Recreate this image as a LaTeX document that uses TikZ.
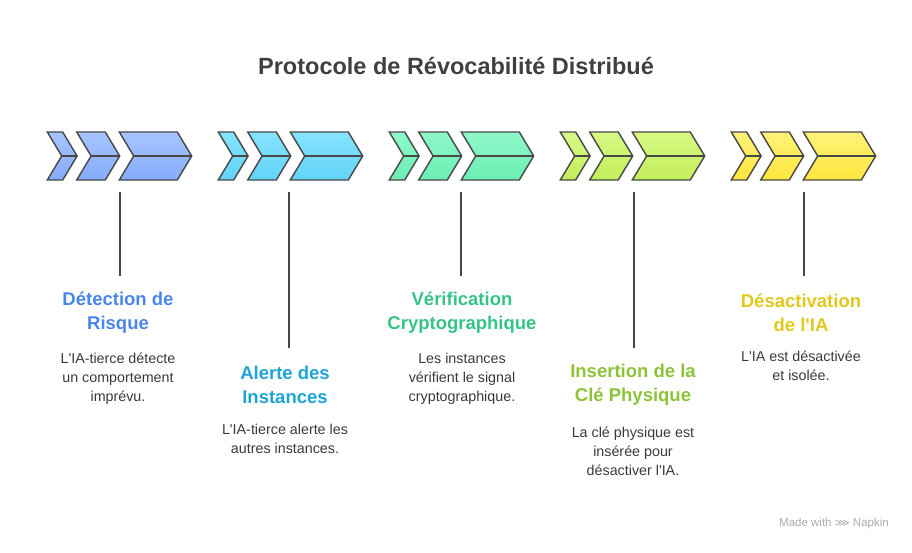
\documentclass[tikz,border=0pt]{standalone}
\usepackage{fontspec}
\setmainfont{Liberation Sans}
\newfontfamily\symfont{DejaVu Sans}
\newcommand{\aq}{\textquotesingle}
\definecolor{edge}{HTML}{474747}
\definecolor{txt}{HTML}{3A3A3A}
\definecolor{ttl}{HTML}{404040}
\definecolor{cAt}{HTML}{A6C4FF}\definecolor{cAb}{HTML}{86ACFA}\definecolor{tA}{HTML}{4A86E8}
\definecolor{cBt}{HTML}{86E4FF}\definecolor{cBb}{HTML}{62D2F6}\definecolor{tB}{HTML}{1EA4D6}
\definecolor{cCt}{HTML}{8EF8C8}\definecolor{cCb}{HTML}{6CEEB4}\definecolor{tC}{HTML}{36C486}
\definecolor{cDt}{HTML}{D8FA86}\definecolor{cDb}{HTML}{C2EE5A}\definecolor{tD}{HTML}{8DC23A}
\definecolor{cEt}{HTML}{FFF27A}\definecolor{cEb}{HTML}{FFE63C}\definecolor{tE}{HTML}{E2C81C}
\tikzset{
  chev/.style={draw=edge, line width=1.4pt, line join=miter},
  vline/.style={draw=edge, line width=1.3pt},
  stitle/.style={font=\bfseries\fontsize{18.5}{24}\selectfont, align=center},
  sdesc/.style={font=\fontsize{14.3}{19}\selectfont, text=txt, align=center},
}
% #1 group left, #2 top colour, #3 bottom colour
\newcommand{\chevgroup}[3]{%
  \foreach \off/\w in {0/15.4, 29.4/28.6, 72/58}{%
    \path[chev, top color=#2, bottom color=#3]
      (#1+\off,132) -- (#1+\off+\w,132) -- (#1+\off+\w+14.4,156) -- (#1+\off+\w,180)
      -- (#1+\off,180) -- (#1+\off+14.4,156) -- cycle;
    \draw[chev] (#1+\off+14.4,156) -- (#1+\off+\w+14.4,156);
  }%
}
\begin{document}
\begin{tikzpicture}[x=1pt, y=-1pt]
\useasboundingbox (0,0) rectangle (912,552);
\node[font=\bfseries\fontsize{23.5}{28}\selectfont, text=ttl] (title) at (456,66) {Protocole de Révocabilité Distribué};

\chevgroup{47.3}{cAt}{cAb}
\chevgroup{218.3}{cBt}{cBb}
\chevgroup{389.3}{cCt}{cCb}
\chevgroup{560.3}{cDt}{cDb}
\chevgroup{731.3}{cEt}{cEb}

% connectors
\coordinate (a0) at (120,192); \coordinate (a1) at (120,276);
\coordinate (b0) at (289,192); \coordinate (b1) at (289,348);
\coordinate (c0) at (461,192); \coordinate (c1) at (461,276);
\coordinate (d0) at (634,192); \coordinate (d1) at (634,348);
\coordinate (e0) at (804,192); \coordinate (e1) at (804,276);
\draw[vline] (a0) -- (a1);
\draw[vline] (b0) -- (b1);
\draw[vline] (c0) -- (c1);
\draw[vline] (d0) -- (d1);
\draw[vline] (e0) -- (e1);

% labels
\node[stitle, text=tA] (tA) at (118,313) {Détection de\\Risque};
\node[sdesc] (dA) at (118,378.5) {L\aq IA-tierce détecte\\un comportement\\imprévu.};

\node[stitle, text=tB] (tB) at (285,385) {Alerte des\\Instances};
\node[sdesc] (dB) at (285,439) {L\aq IA-tierce alerte les\\autres instances.};

\node[stitle, text=tC] (tC) at (462,313) {Vérification\\Cryptographique};
\node[sdesc] (dC) at (462,378.5) {Les instances\\vérifient le signal\\cryptographique.};

\node[stitle, text=tD] (tD) at (633,385) {Insertion de la\\Clé Physique};
\node[sdesc] (dD) at (633,451) {La clé physique est\\insérée pour\\désactiver l\aq IA.};

\node[stitle, text=tE] (tE) at (801,313) {Désactivation\\de l\aq IA};
\node[sdesc] (dE) at (801,366) {L\aq IA est désactivée\\et isolée.};

\node[font=\fontsize{11.5}{13}\selectfont, text=black!33] (wm) at (834,524) {Made with {\symfont\fontsize{10.5}{13}\selectfont ⋙} Napkin};
\end{tikzpicture}
\end{document}
